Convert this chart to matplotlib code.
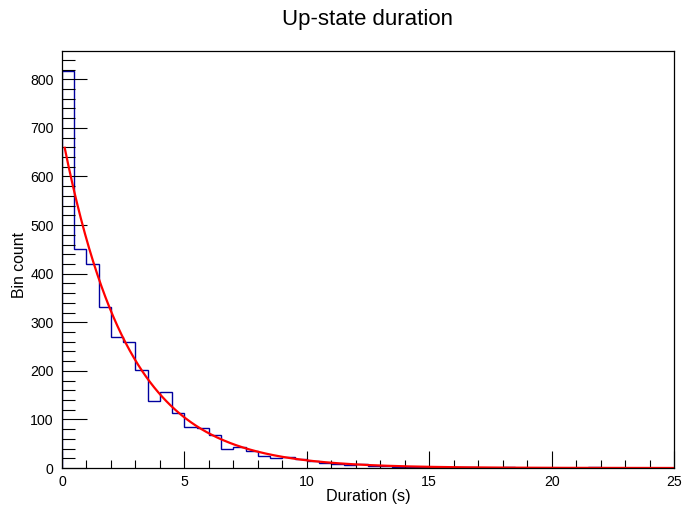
import numpy as np
import matplotlib
matplotlib.use("Agg")
import matplotlib.pyplot as plt
from matplotlib.ticker import MultipleLocator

plt.rcParams['font.family'] = ['Liberation Sans', 'DejaVu Sans']

# Data
bin_edges = np.arange(0, 25.01, 0.5)
counts = [818, 451, 419, 331, 269, 260, 202, 138, 157, 113,
          85, 83, 67, 39, 44, 36, 25, 21, 23, 18,
          15, 10, 8, 7, 8, 5, 4, 3, 3, 2,
          2, 1, 2, 2, 1, 1, 2, 1, 1, 1,
          0, 1, 0, 2, 0, 1, 0, 0, 0, 0]
fit_amplitude = 687.0
fit_tau = 2.65
fit_start = 0.11

title = "Up-state duration"
xlabel = "Duration (s)"
ylabel = "Bin count"

fig = plt.figure(figsize=(6.83, 5.11), dpi=100)
ax = fig.add_axes([62/683, 1-468/511, (674-62)/683, (468-50.7)/511])

ax.stairs(counts, bin_edges, color='#00009e', lw=1.0)
xf = np.linspace(fit_start, 25, 600)
ax.plot(xf, fit_amplitude*np.exp(-xf/fit_tau), color='#ff0000', lw=1.6)

ax.set_xlim(0, 25)
ax.set_ylim(0, max(counts)*1.05)

ax.xaxis.set_major_locator(MultipleLocator(5))
ax.xaxis.set_minor_locator(MultipleLocator(1))
ax.yaxis.set_major_locator(MultipleLocator(100))
ax.yaxis.set_minor_locator(MultipleLocator(20))
ax.tick_params(which='both', direction='in', top=False, right=False,
               labelsize=10.2, width=0.8, color='black')
ax.tick_params(axis='y', which='major', length=18, pad=6)
ax.tick_params(axis='y', which='minor', length=9)
ax.tick_params(axis='x', which='major', length=12, pad=5)
ax.tick_params(axis='x', which='minor', length=6)
for s in ax.spines.values():
    s.set_linewidth(0.9)

fig.text(368/683, 1-20/511, title, ha='center', va='center', fontsize=16)
fig.text(368/683, 1-496/511, xlabel, ha='center', va='center', fontsize=11.6)
fig.text(19.5/683, 1-265/511, ylabel, ha='center', va='center', rotation=90, fontsize=11.4)

fig.savefig("out.png", dpi=100)
